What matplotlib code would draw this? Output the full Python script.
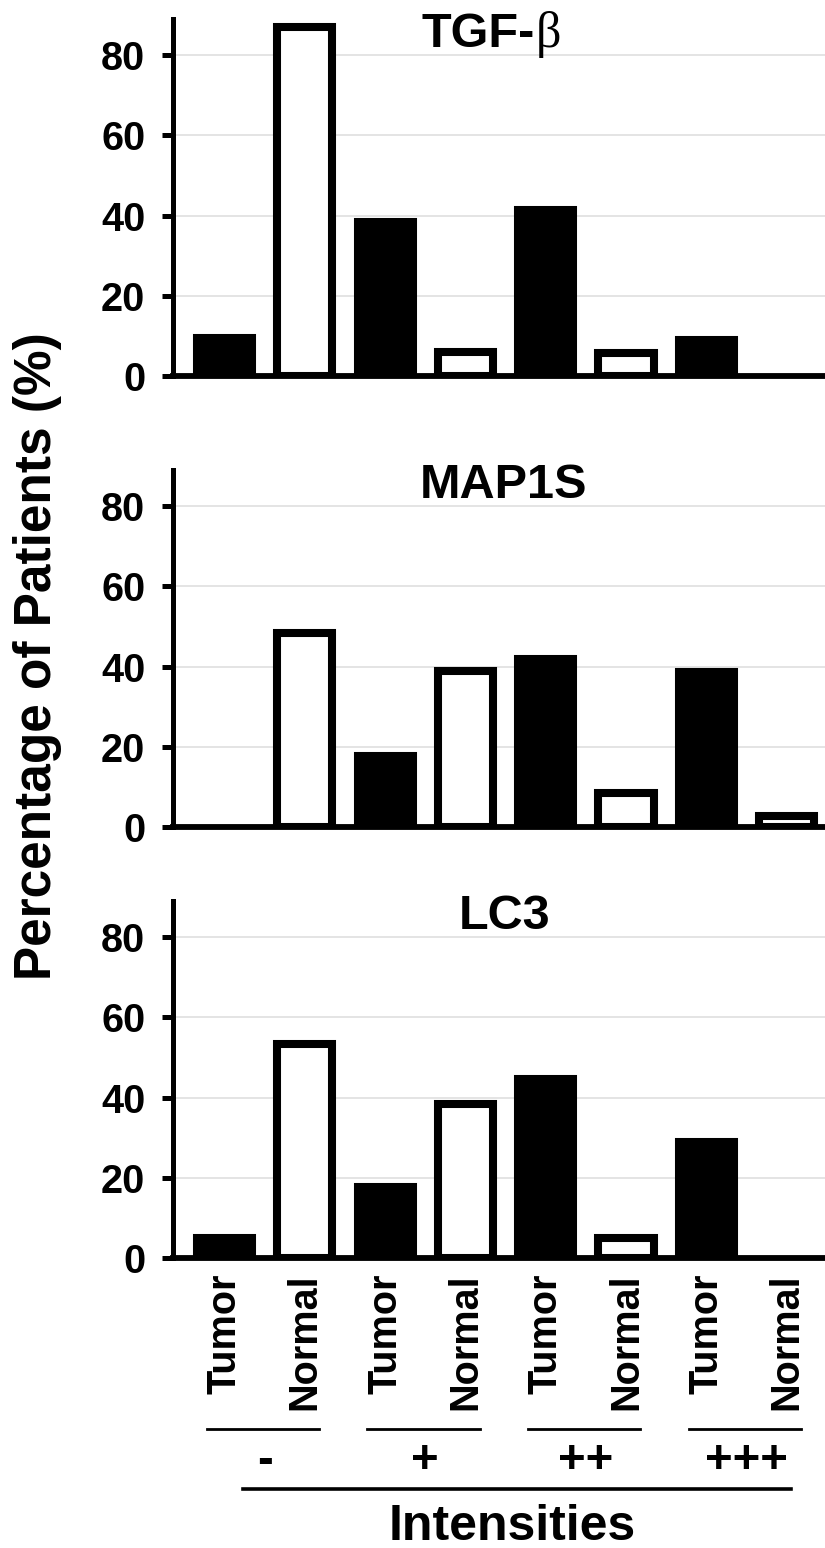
import numpy as np
import matplotlib
matplotlib.use('Agg')
import matplotlib.pyplot as plt
from matplotlib.transforms import blended_transform_factory

plt.rcParams['font.family'] = ['Liberation Sans', 'DejaVu Sans']
plt.rcParams['font.weight'] = 'bold'

# Percentage of patients per staining intensity (-, +, ++, +++)
PANELS = ['TGF-β', 'MAP1S', 'LC3']
INTENSITIES = ['-', '+', '++', '+++']
GROUPS = ['Tumor', 'Normal']

tgfb_tumor = [9.4, 38.5, 41.5, 8.9]
tgfb_normal = [87.0, 6.0, 5.7, 0.0]
map1s_tumor = [0.0, 17.7, 41.9, 38.7]
map1s_normal = [48.4, 38.9, 8.5, 2.7]
lc3_tumor = [5.0, 17.8, 44.6, 29.0]
lc3_normal = [53.4, 38.3, 5.0, 0.0]

YTICKS = [0, 20, 40, 60, 80]

FIG_W, FIG_H = 825, 1548
ZERO_PX = [376, 827, 1258]     # pixel row of the zero line of each panel
AX_LEFT_PX, AX_RIGHT_PX = 173, 825
AX_H_PX = 357
EDGE_LW = 5.8


def fy(px):
    return 1 - px / FIG_H


def interleave(tumor, normal):
    out = []
    for t, n in zip(tumor, normal):
        out += [t, n]
    return out


fig = plt.figure(figsize=(FIG_W / 100, FIG_H / 100), dpi=100)

data = [(tgfb_tumor, tgfb_normal), (map1s_tumor, map1s_normal), (lc3_tumor, lc3_normal)]
x = np.arange(len(INTENSITIES) * 2)
axes = []
for k, ((tumor, normal), zero) in enumerate(zip(data, ZERO_PX)):
    ax = fig.add_axes([AX_LEFT_PX / FIG_W, fy(zero), (AX_RIGHT_PX - AX_LEFT_PX) / FIG_W, AX_H_PX / FIG_H])
    vals = interleave(tumor, normal)
    colors = ['black', 'white'] * len(INTENSITIES)
    lws = [0 if v == 0 else EDGE_LW for v in vals]
    ax.bar(x, vals, width=0.685, color=colors, edgecolor='black', linewidth=lws, zorder=2)
    ax.set_xlim(-0.641, 7.478)
    ax.set_ylim(0, 89)
    ax.set_yticks(YTICKS)
    ax.yaxis.grid(True, color='#dcdcdc', linewidth=1.1, zorder=0)
    ax.set_axisbelow(True)
    for s in ['top', 'right']:
        ax.spines[s].set_visible(False)
    ax.spines['left'].set_linewidth(3.6)
    ax.spines['bottom'].set_linewidth(4.2)
    ax.spines['left'].set_zorder(3)
    ax.spines['bottom'].set_zorder(3)
    ax.tick_params(axis='y', direction='out', length=8, width=3.6, pad=12, labelsize=28.5)
    for lab in ax.get_yticklabels():
        lab.set_fontweight('bold')
    ax.set_xticks([])
    axes.append(ax)

# panel titles
axes[0].text(3.87, 82, 'TGF-', ha='right', va='baseline', fontsize=35, fontweight='bold')
axes[0].text(3.87, 82, 'β', ha='left', va='baseline', fontsize=36, fontweight='normal',
             family=['Liberation Serif', 'DejaVu Serif'])
axes[1].text(3.48, 82, PANELS[1], ha='center', va='baseline', fontsize=35, fontweight='bold')
axes[2].text(3.49, 82, PANELS[2], ha='center', va='baseline', fontsize=35, fontweight='bold')

# Tumor / Normal labels under the last panel
ax3 = axes[2]
ax3.set_xticks(x)
ax3.set_xticklabels(GROUPS * len(INTENSITIES), rotation=90, fontsize=28.5, fontweight='bold')
ax3.tick_params(axis='x', length=0, pad=11)

trans = blended_transform_factory(ax3.transData, fig.transFigure)
for k, sym in enumerate(INTENSITIES):
    ax3.plot([2 * k - 0.22, 2 * k + 1.18], [fy(1429), fy(1429)], color='black', lw=2.0,
             transform=trans, clip_on=False)
    ax3.text(2 * k + 0.5, fy(1473), sym, ha='center', va='baseline', fontsize=34,
             fontweight='bold', transform=trans)
ax3.plot([0.23, 7.05], [fy(1489), fy(1489)], color='black', lw=2.6, transform=trans, clip_on=False)
ax3.text(3.58, fy(1540), 'Intensities', ha='center', va='baseline', fontsize=36,
         fontweight='bold', transform=trans)

fig.text(38 / FIG_W, fy(656), 'Percentage of Patients (%)', rotation=90, ha='center', va='center',
         fontsize=37, fontweight='bold')

fig.savefig('out.png', dpi=100)
